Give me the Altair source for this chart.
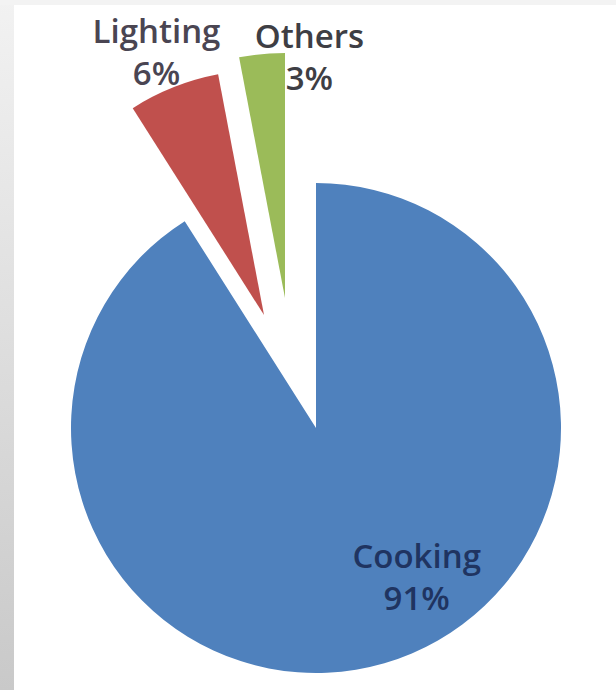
import altair as alt
import pandas as pd

categories = ["Cooking", "Lighting", "Others"]
shares = [91, 6, 3]
pct_labels = ["91%", "6%", "3%"]
slice_order = [0, 1, 2]
colors = ["#4F81BD", "#C0504D", "#9BBB59"]

df = pd.DataFrame({
    "category": categories,
    "share": shares,
    "pct": pct_labels,
    "order": slice_order,
})

base = alt.Chart(df).transform_window(
    end="sum(share)", sort=[alt.SortField("order")], frame=[None, 0]
).transform_calculate(
    start="datum.end - datum.share",
    mid="datum.end - datum.share / 2",
    label="[datum.category, datum.pct]",
)

theta_scale = alt.Scale(domain=[0, sum(shares)])
color_scale = alt.Scale(domain=categories, range=colors)

CX, CY, R = 316, 428, 245
explode = {"Cooking": (0, 0), "Lighting": (-52, -113), "Others": (-31, -130)}
label_style = {
    "Cooking": dict(radius=178, dx=51, dy=-41, color="#1f3461"),
    "Lighting": dict(radius=265, dx=-10, dy=-36, color="#4a4552"),
    "Others": dict(radius=230, dx=46, dy=-31, color="#3e3e44"),
}

# decorative grey frame strip on the left edge, as in the source picture
frame = alt.Chart(pd.DataFrame({"k": [0]})).mark_rect(
    color=alt.LinearGradient(
        gradient="linear", x1=0, x2=0, y1=0, y2=1,
        stops=[alt.GradientStop(color="#f2f2f2", offset=0),
               alt.GradientStop(color="#c9c9c9", offset=1)],
    )
).encode(x=alt.value(0), x2=alt.value(14), y=alt.value(0), y2=alt.value(690))

top_strip = alt.Chart(pd.DataFrame({"k": [0]})).mark_rect(color="#f3f3f3").encode(
    x=alt.value(0), x2=alt.value(616), y=alt.value(0), y2=alt.value(5)
)

layers = [frame, top_strip]
for cat in categories:
    ox, oy = explode[cat]
    sub = base.transform_filter(alt.datum.category == cat)
    arc = sub.mark_arc(outerRadius=R).encode(
        theta=alt.Theta("start:Q", scale=theta_scale),
        theta2="end:Q",
        color=alt.Color("category:N", scale=color_scale, legend=None),
        x=alt.value(CX + ox),
        y=alt.value(CY + oy),
    )
    st = label_style[cat]
    txt = sub.mark_text(
        radius=st["radius"], dx=st["dx"], dy=st["dy"], color=st["color"],
        font="Open Sans", fontSize=33, fontWeight=600, lineHeight=42,
        align="center", baseline="middle",
    ).encode(
        theta=alt.Theta("mid:Q", scale=theta_scale),
        text="label:N",
        x=alt.value(CX + ox),
        y=alt.value(CY + oy),
    )
    layers += [arc, txt]

chart = alt.layer(*layers).properties(
    width=616, height=690, autosize="none", padding=0,
    background="white",
).configure_view(stroke=None)

chart.save("out.html", embed_options={"renderer": "svg", "actions": False})
